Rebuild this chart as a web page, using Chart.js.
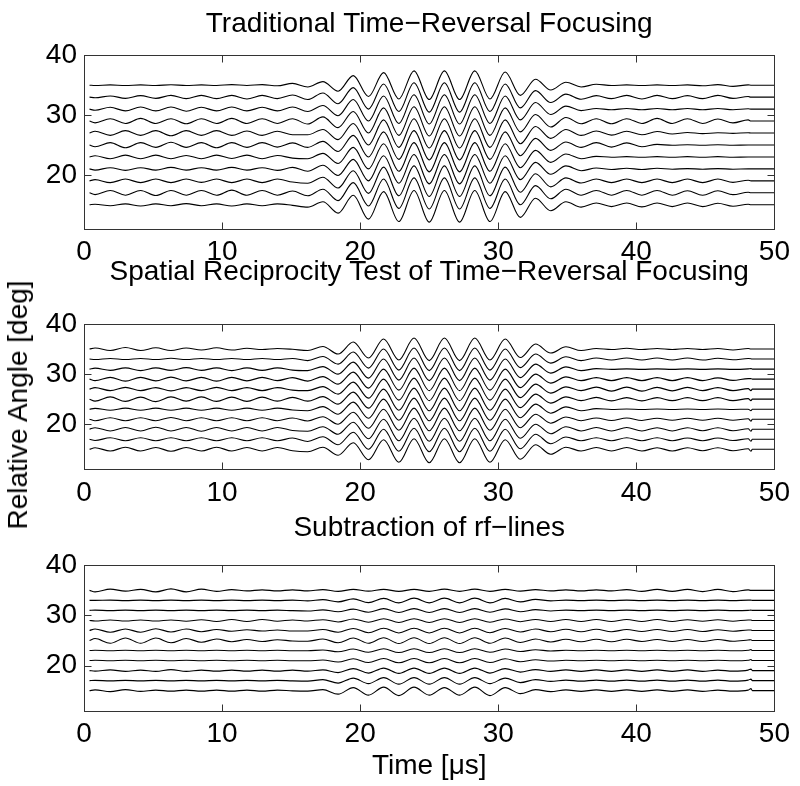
<!DOCTYPE html>
<html>
<head>
<meta charset="utf-8">
<script src="https://cdn.jsdelivr.net/npm/chart.js@4.4.1/dist/chart.umd.min.js"></script>
<style>
  html, body { margin: 0; padding: 0; background: #fff; }
  #page { position: relative; width: 800px; height: 786px; overflow: hidden; }
  canvas { position: absolute; left: 0; }
  #ylabel {
    position: absolute; left: 18px; top: 405px;
    transform: translate(-50%, -50%) rotate(-90deg);
    font-family: "Liberation Sans", Arial, sans-serif; font-size: 28px; color: #000;
    white-space: nowrap; line-height: 1;
  }
</style>
</head>
<body>
<div id="page">
  <canvas id="cTrad" width="800" height="262" style="top:0px"></canvas>
  <canvas id="cRecip" width="800" height="270" style="top:250px"></canvas>
  <canvas id="cSub" width="800" height="281" style="top:505px"></canvas>
  <div id="ylabel">Relative Angle [deg]</div>
</div>
<script>
// ═══════════════════════════════════════════════
// Time-reversal focusing – three stacked rf-line plots
// ═══════════════════════════════════════════════

// time samples [µs] (wave extrema, plus start / end of trace)
const timeUs = [
  0.4, 0.8, 1.9, 3.0, 4.1, 5.2, 6.3, 7.4, 8.5, 9.6, 10.7, 11.8, 12.9, 14.0, 15.1,
  16.2, 17.3, 18.4, 19.5, 20.6, 21.7, 22.8, 23.9, 25.0, 26.1, 27.2, 28.3, 29.4, 30.5, 31.6, 32.7, 33.8, 34.9, 36.0,
  37.1, 38.2, 39.3, 40.4, 41.5, 42.6, 43.7, 44.8, 45.9, 47.0, 48.1, 48.3, 48.4, 50
];

// relative angle of each rf-line [deg], top to bottom
const angles = [35, 33, 31, 29, 27, 25, 23, 21, 19, 17, 15];

const xTicks = [0, 10, 20, 30, 40, 50];
const yTicks = [20, 30, 40];

// ── Traditional time-reversal focusing (deviation from the line's angle) ──
const tradLines = [
  [0, -0.05, 0.05, -0.05, 0.05, -0.05, 0.08, -0.05, 0.05, -0.05, 0.1, -0.05, 0.1, -0.1, 0.3,
   -0.3, 0.6, -1.0, 1.6, -1.9, 2.1, -2.3, 2.4, -2.4, 2.4, -2.4, 2.4, -2.3, 2.2, -1.7, 1.0, -0.8, 0.5, -0.3,
   0.15, -0.05, 0.05, -0.05, 0.05, -0.05, 0.05, -0.1, 0.1, -0.2, 0.05, 0, 0, 0],
  [0, -0.1, 0.2, -0.2, 0.25, -0.2, 0.3, -0.25, 0.3, -0.25, 0.3, -0.3, 0.3, -0.25, 0.35,
   -0.4, 0.7, -1.1, 1.6, -2.0, 2.2, -2.4, 2.4, -2.5, 2.4, -2.5, 2.4, -2.4, 2.2, -1.8, 1.1, -0.9, 0.5, -0.35,
   0.25, -0.25, 0.3, -0.3, 0.3, -0.25, 0.25, -0.25, 0.3, -0.2, 0.1, 0, 0, 0],
  [0, -0.2, 0.3, -0.3, 0.35, -0.3, 0.35, -0.35, 0.3, -0.3, 0.35, -0.3, 0.3, -0.3, 0.35,
   -0.4, 0.6, -1.1, 1.6, -2.0, 2.2, -2.4, 2.4, -2.5, 2.4, -2.5, 2.4, -2.4, 2.2, -1.8, 1.1, -0.9, 0.5, -0.25,
   0.1, -0.1, 0.1, -0.1, 0.1, -0.1, 0.1, -0.1, 0.1, -0.1, 0.05, 0, 0, 0],
  [0, -0.3, 0.4, -0.4, 0.45, -0.4, 0.4, -0.45, 0.4, -0.4, 0.45, -0.4, 0.4, -0.4, 0.4,
   -0.5, 0.7, -1.1, 1.6, -2.0, 2.2, -2.4, 2.4, -2.5, 2.4, -2.5, 2.4, -2.4, 2.2, -1.8, 1.1, -1.0, 0.6, -0.45,
   0.4, -0.45, 0.4, -0.4, 0.45, -0.4, 0.4, -0.4, 0.35, -0.3, 0.2, 0, 0, 0],
  [0, 0.3, -0.4, 0.4, -0.4, 0.4, -0.45, 0.4, -0.4, 0.4, -0.4, 0.35, -0.4, 0.3, -0.3,
   -0.3, 0.6, -1.1, 1.6, -2.0, 2.2, -2.4, 2.4, -2.5, 2.4, -2.5, 2.4, -2.4, 2.2, -1.8, 1.1, -0.9, 0.6, -0.4,
   0.35, -0.35, 0.3, -0.3, 0.25, -0.15, 0.1, -0.1, 0.05, -0.05, 0.05, 0, 0, 0],
  [0, -0.3, 0.4, -0.45, 0.4, -0.4, 0.45, -0.4, 0.4, -0.45, 0.4, -0.4, 0.4, -0.35, 0.35,
   -0.4, 0.6, -1.1, 1.6, -2.0, 2.2, -2.4, 2.4, -2.5, 2.4, -2.5, 2.4, -2.4, 2.2, -1.8, 1.1, -0.9, 0.5, -0.4,
   0.4, -0.35, 0.35, -0.3, 0.1, -0.05, 0.05, -0.05, 0.05, -0.05, 0, 0, 0, 0],
  [0, 0.2, -0.3, 0.3, -0.3, 0.3, -0.3, 0.25, -0.3, 0.3, -0.25, 0.3, -0.3, 0.25, -0.2,
   -0.3, 0.6, -1.1, 1.6, -2.0, 2.2, -2.4, 2.4, -2.5, 2.4, -2.5, 2.4, -2.4, 2.2, -1.8, 1.1, -0.9, 0.5, -0.3,
   0.1, -0.05, 0.05, -0.05, 0.05, -0.05, 0.05, -0.05, 0.05, -0.05, 0, 0, 0, 0],
  [0, -0.2, 0.2, -0.25, 0.2, -0.2, 0.25, -0.2, 0.2, -0.2, 0.25, -0.2, 0.2, -0.25, 0.25,
   -0.4, 0.6, -1.1, 1.6, -2.0, 2.2, -2.4, 2.4, -2.5, 2.4, -2.5, 2.4, -2.4, 2.2, -1.8, 1.1, -0.9, 0.5, -0.3,
   0.15, -0.1, 0.1, -0.1, 0.1, -0.05, 0.05, -0.05, 0.05, -0.05, 0, 0, 0, 0],
  [0, 0.2, -0.3, 0.3, -0.3, 0.3, -0.3, 0.3, -0.25, 0.3, -0.3, 0.3, -0.3, 0.3, -0.2,
   -0.4, 0.6, -1.2, 1.7, -2.1, 2.3, -2.5, 2.5, -2.6, 2.5, -2.6, 2.5, -2.5, 2.3, -1.9, 1.2, -1.0, 0.5, -0.35,
   0.3, -0.3, 0.3, -0.3, 0.3, -0.3, 0.3, -0.3, 0.3, -0.25, 0.1, 0, 0, 0],
  [0, -0.3, 0.4, -0.4, 0.4, -0.45, 0.4, -0.4, 0.4, -0.4, 0.45, -0.4, 0.4, -0.4, 0.3,
   -0.5, 0.6, -1.3, 1.7, -2.2, 2.3, -2.6, 2.5, -2.7, 2.5, -2.7, 2.5, -2.6, 2.3, -2.0, 1.2, -1.0, 0.6, -0.4,
   0.4, -0.4, 0.4, -0.4, 0.4, -0.4, 0.35, -0.4, 0.35, -0.3, 0.1, 0, 0, 0],
  [0, 0.1, -0.15, 0.15, -0.2, 0.15, -0.15, 0.2, -0.15, 0.15, -0.2, 0.15, -0.15, 0.15, -0.1,
   -0.4, 0.5, -1.4, 1.6, -2.4, 2.2, -2.8, 2.4, -2.9, 2.4, -2.9, 2.4, -2.8, 2.2, -2.1, 1.1, -1.0, 0.5, -0.4,
   0.3, -0.3, 0.3, -0.35, 0.3, -0.3, 0.3, -0.3, 0.25, -0.25, 0.1, 0, 0, 0]
];

// ── Spatial reciprocity test ──
const recipLines = [
  [0, 0.2, -0.3, 0.3, -0.3, 0.25, -0.3, 0.2, -0.2, 0.25, -0.2, 0.15, -0.1, 0.1, -0.05,
   -0.3, 0.5, -1.0, 1.4, -1.8, 2.0, -2.2, 2.2, -2.3, 2.2, -2.3, 2.2, -2.2, 2.0, -1.7, 1.0, -0.8, 0.45, -0.3,
   0.1, -0.1, 0.15, -0.1, 0.1, -0.1, 0.1, -0.1, 0.1, -0.2, 0.1, 0, 0, 0],
  [0, -0.1, 0.1, -0.1, 0.1, -0.1, 0.15, -0.1, 0.1, -0.1, 0.1, -0.1, 0.1, -0.1, 0.1,
   -0.3, 0.5, -1.0, 1.4, -1.8, 2.0, -2.2, 2.2, -2.3, 2.2, -2.3, 2.2, -2.2, 2.0, -1.7, 1.0, -0.8, 0.45, -0.3,
   0.2, -0.2, 0.2, -0.2, 0.2, -0.2, 0.2, -0.2, 0.15, -0.15, 0.1, 0.05, 0, 0],
  [0, 0.2, -0.25, 0.25, -0.3, 0.25, -0.25, 0.3, -0.25, 0.25, -0.3, 0.25, -0.25, 0.25, -0.2,
   -0.3, 0.5, -1.0, 1.4, -1.8, 2.0, -2.2, 2.2, -2.3, 2.2, -2.3, 2.2, -2.2, 2.0, -1.7, 1.0, -0.8, 0.45, -0.3,
   0.1, -0.05, 0.05, -0.05, 0.05, -0.05, 0.05, -0.05, 0.05, -0.05, 0.05, 0.1, 0, 0],
  [0, -0.3, 0.35, -0.4, 0.35, -0.35, 0.4, -0.35, 0.35, -0.4, 0.35, -0.35, 0.35, -0.3, 0.3,
   -0.4, 0.5, -1.0, 1.4, -1.8, 2.0, -2.2, 2.2, -2.3, 2.2, -2.3, 2.2, -2.2, 2.0, -1.7, 1.0, -0.8, 0.45, -0.3,
   0.3, -0.3, 0.3, -0.3, 0.3, -0.3, 0.3, -0.3, 0.25, -0.25, 0.1, 0.1, 0, 0],
  [0, 0.3, -0.3, 0.35, -0.3, 0.3, -0.35, 0.3, -0.3, 0.35, -0.3, 0.3, -0.3, 0.3, -0.2,
   -0.3, 0.5, -1.0, 1.4, -1.8, 2.0, -2.2, 2.2, -2.3, 2.2, -2.3, 2.2, -2.2, 2.0, -1.7, 1.0, -0.8, 0.45, -0.3,
   0.4, -0.4, 0.4, -0.4, 0.35, -0.35, 0.35, -0.3, 0.3, -0.3, 0.1, -0.3, 0, 0],
  [0, -0.4, 0.45, -0.45, 0.4, -0.5, 0.45, -0.4, 0.45, -0.45, 0.4, -0.45, 0.4, -0.4, 0.35,
   -0.4, 0.5, -1.0, 1.4, -1.8, 2.0, -2.2, 2.2, -2.3, 2.2, -2.3, 2.2, -2.2, 2.0, -1.7, 1.0, -0.8, 0.45, -0.3,
   0.35, -0.35, 0.3, -0.35, 0.3, -0.3, 0.3, -0.3, 0.3, -0.3, 0.1, -0.3, 0, 0],
  [0, 0.15, -0.2, 0.2, -0.2, 0.2, -0.2, 0.2, -0.2, 0.2, -0.2, 0.2, -0.2, 0.2, -0.15,
   -0.3, 0.5, -1.0, 1.4, -1.8, 2.0, -2.2, 2.2, -2.3, 2.2, -2.3, 2.2, -2.2, 2.0, -1.7, 1.0, -0.8, 0.45, -0.3,
   0.1, -0.05, 0.05, -0.05, 0.05, -0.05, 0.05, -0.05, 0.05, -0.05, 0, -0.3, 0, 0],
  [0, -0.3, 0.3, -0.3, 0.3, -0.3, 0.35, -0.3, 0.3, -0.3, 0.3, -0.3, 0.3, -0.3, 0.25,
   -0.35, 0.5, -1.0, 1.4, -1.8, 2.0, -2.2, 2.2, -2.3, 2.2, -2.3, 2.2, -2.2, 2.0, -1.7, 1.0, -0.8, 0.45, -0.3,
   0.25, -0.25, 0.25, -0.25, 0.2, -0.2, 0.2, -0.2, 0.2, -0.2, 0.1, -0.4, 0, 0],
  [0, 0.3, -0.35, 0.35, -0.35, 0.4, -0.35, 0.35, -0.4, 0.35, -0.35, 0.35, -0.35, 0.35, -0.25,
   -0.4, 0.5, -1.0, 1.4, -1.9, 2.0, -2.3, 2.2, -2.4, 2.2, -2.4, 2.2, -2.3, 2.0, -1.8, 1.0, -0.9, 0.5, -0.35,
   0.35, -0.35, 0.35, -0.35, 0.3, -0.35, 0.3, -0.3, 0.3, -0.3, 0.1, -0.4, 0, 0],
  [0, -0.25, 0.3, -0.3, 0.3, -0.3, 0.3, -0.3, 0.3, -0.3, 0.3, -0.3, 0.3, -0.3, 0.25,
   -0.45, 0.5, -1.1, 1.4, -2.0, 2.0, -2.4, 2.2, -2.5, 2.2, -2.5, 2.2, -2.4, 2.0, -1.9, 1.0, -0.9, 0.45, -0.3,
   0.3, -0.3, 0.3, -0.3, 0.3, -0.3, 0.25, -0.3, 0.25, -0.25, 0.1, -0.4, 0, 0],
  [0, 0.3, -0.35, 0.4, -0.35, 0.35, -0.4, 0.35, -0.35, 0.4, -0.35, 0.35, -0.35, 0.35, -0.3,
   -0.5, 0.4, -1.2, 1.3, -2.1, 1.9, -2.6, 2.1, -2.7, 2.1, -2.7, 2.1, -2.6, 1.9, -2.0, 0.9, -1.0, 0.4, -0.35,
   0.35, -0.35, 0.35, -0.35, 0.3, -0.35, 0.3, -0.3, 0.3, -0.3, 0.1, -0.4, 0, 0]
];

// ── Subtraction of rf-lines ──
const subLines = [
  [0, -0.3, 0.25, -0.15, 0.2, -0.3, 0.3, -0.3, 0.25, -0.2, 0.15, -0.1, 0.1, -0.1, 0.1,
   -0.1, 0.15, -0.2, 0.2, -0.15, 0.2, -0.2, 0.2, -0.2, 0.25, -0.2, 0.25, -0.2, 0.2, -0.15, 0.15, -0.1, 0.1, -0.1,
   0.1, -0.1, 0.15, -0.2, 0.2, -0.2, 0.2, -0.25, 0.2, -0.25, 0.1, 0, 0, 0],
  [0, 0, 0.05, -0.05, 0.05, -0.05, 0.05, -0.05, 0.05, -0.05, 0.05, -0.05, 0.05, -0.05, 0.05,
   -0.1, 0.15, -0.3, 0.3, -0.45, 0.4, -0.5, 0.45, -0.5, 0.45, -0.5, 0.45, -0.5, 0.4, -0.3, 0.2, -0.1, 0.05, -0.05,
   0.05, -0.05, 0.05, -0.05, 0.05, -0.05, 0.05, -0.05, 0.05, -0.05, 0.05, 0.05, 0, 0],
  [0, 0.05, -0.05, 0.05, -0.05, 0.05, -0.05, 0.05, -0.05, 0.05, -0.05, 0.05, -0.05, 0.05, -0.05,
   -0.1, 0.1, -0.25, 0.25, -0.35, 0.35, -0.4, 0.35, -0.4, 0.35, -0.4, 0.35, -0.35, 0.3, -0.25, 0.15, -0.1, 0.05, -0.05,
   0.05, -0.05, 0.05, -0.05, 0.05, -0.05, 0.05, -0.05, 0.05, -0.05, 0, 0.05, 0, 0],
  [0, -0.1, 0.1, -0.1, 0.1, -0.1, 0.1, -0.15, 0.15, -0.2, 0.2, -0.2, 0.2, -0.15, 0.1,
   -0.1, 0.15, -0.3, 0.3, -0.35, 0.35, -0.4, 0.35, -0.4, 0.35, -0.4, 0.35, -0.35, 0.3, -0.25, 0.2, -0.2, 0.2, -0.2,
   0.2, -0.2, 0.2, -0.2, 0.2, -0.2, 0.15, -0.15, 0.15, -0.15, 0.1, 0.1, 0, 0],
  [0, 0.3, -0.35, 0.3, -0.35, 0.35, -0.3, 0.3, -0.25, 0.2, -0.15, 0.15, -0.1, 0.1, -0.1,
   -0.1, 0.2, -0.35, 0.4, -0.45, 0.45, -0.5, 0.45, -0.5, 0.45, -0.5, 0.45, -0.45, 0.4, -0.3, 0.3, -0.25, 0.25, -0.25,
   0.25, -0.25, 0.2, -0.2, 0.2, -0.2, 0.2, -0.2, 0.15, -0.15, 0.1, 0.1, 0, 0],
  [0, 0.4, -0.55, 0.5, -0.55, 0.5, -0.45, 0.4, -0.35, 0.3, -0.25, 0.2, -0.2, 0.15, -0.1,
   -0.15, 0.3, -0.45, 0.5, -0.55, 0.55, -0.6, 0.55, -0.6, 0.55, -0.6, 0.55, -0.55, 0.5, -0.4, 0.3, -0.3, 0.25, -0.25,
   0.25, -0.25, 0.25, -0.2, 0.2, -0.2, 0.2, -0.2, 0.2, -0.15, 0.1, 0.15, 0, 0],
  [0, 0.05, -0.05, 0.05, -0.05, 0.05, -0.05, 0.05, -0.05, 0.05, -0.05, 0.05, -0.05, 0.05, -0.05,
   -0.05, 0.1, -0.25, 0.3, -0.35, 0.35, -0.4, 0.35, -0.4, 0.35, -0.4, 0.35, -0.35, 0.3, -0.2, 0.15, -0.1, 0.05, -0.05,
   0.05, -0.05, 0.05, -0.05, 0.05, -0.05, 0.05, -0.05, 0.05, -0.05, 0.05, 0.2, 0, 0],
  [0, 0.05, -0.05, 0.05, -0.05, 0.05, -0.05, 0.05, -0.05, 0.05, -0.05, 0.05, -0.05, 0.05, -0.05,
   -0.05, 0.1, -0.3, 0.35, -0.4, 0.4, -0.45, 0.4, -0.45, 0.4, -0.45, 0.4, -0.4, 0.35, -0.25, 0.15, -0.1, 0.05, -0.05,
   0.05, -0.05, 0.05, -0.05, 0.05, -0.05, 0.05, -0.05, 0.05, -0.05, 0.05, 0.2, 0, 0],
  [0, -0.1, 0.15, -0.15, 0.1, -0.15, 0.2, -0.15, 0.1, -0.1, 0.1, -0.1, 0.1, -0.1, 0.1,
   -0.1, 0.15, -0.4, 0.4, -0.5, 0.5, -0.55, 0.5, -0.55, 0.5, -0.55, 0.5, -0.5, 0.4, -0.3, 0.2, -0.15, 0.15, -0.15,
   0.15, -0.15, 0.15, -0.15, 0.15, -0.15, 0.15, -0.15, 0.1, -0.1, 0.1, 0.3, 0, 0],
  [0, 0.05, -0.05, 0.05, -0.05, 0.05, -0.05, 0.05, -0.05, 0.05, -0.05, 0.05, -0.05, 0.05, -0.05,
   -0.1, 0.2, -0.5, 0.5, -0.6, 0.6, -0.7, 0.6, -0.7, 0.6, -0.7, 0.6, -0.6, 0.5, -0.4, 0.2, -0.15, 0.1, -0.1,
   0.1, -0.1, 0.1, -0.1, 0.1, -0.1, 0.1, -0.1, 0.1, -0.1, 0.1, 0.3, 0, 0],
  [0, 0.15, -0.2, 0.2, -0.15, 0.1, -0.1, 0.1, -0.1, 0.1, -0.1, 0.1, -0.1, 0.1, -0.05,
   -0.1, 0.2, -0.7, 0.6, -0.9, 0.7, -1.0, 0.7, -0.9, 0.6, -0.9, 0.7, -1.0, 0.6, -0.6, 0.2, -0.2, 0.15, -0.15,
   0.15, -0.15, 0.15, -0.15, 0.15, -0.15, 0.15, -0.15, 0.1, -0.1, 0.1, 0.4, 0, 0]
];

const FONT = '"Liberation Sans", Arial, Helvetica, sans-serif';

// ── frame + inward tick marks (matlab style box) ──
const boxPlugin = {
  id: 'box',
  afterDraw(chart) {
    const { ctx, chartArea: a, scales } = chart;
    const L = Math.round(a.left) + 0.5, R = Math.round(a.right) + 0.5;
    const T = Math.round(a.top) + 0.5, B = Math.round(a.bottom) + 0.5;
    ctx.save();
    ctx.strokeStyle = '#333';
    ctx.lineWidth = 1;
    ctx.strokeRect(L, T, R - L, B - T);
    ctx.beginPath();
    xTicks.slice(1, -1).forEach(v => {
      const px = Math.round(scales.x.getPixelForValue(v)) + 0.5;
      ctx.moveTo(px, B); ctx.lineTo(px, B - 7);
      ctx.moveTo(px, T); ctx.lineTo(px, T + 7);
    });
    yTicks.slice(0, -1).forEach(v => {
      const py = Math.round(scales.y.getPixelForValue(v)) + 0.5;
      ctx.moveTo(L, py); ctx.lineTo(L + 7, py);
      ctx.moveTo(R, py); ctx.lineTo(R - 7, py);
    });
    ctx.stroke();
    ctx.restore();
  }
};

function makePlot(canvasId, lines, o) {
  const datasets = lines.map((dev, k) => {
    if (dev.length !== timeUs.length) console.warn(canvasId, 'line', k, 'length', dev.length);
    return {
      data: timeUs.map((t, i) => ({ x: t, y: angles[k] + dev[i] })),
      borderColor: '#000',
      borderWidth: 1.1,
      pointRadius: 0,
      fill: false,
      cubicInterpolationMode: 'monotone'
    };
  });

  return new Chart(document.getElementById(canvasId), {
    type: 'line',
    data: { datasets },
    options: {
      responsive: false,
      animation: false,
      events: [],
      layout: { padding: { left: 0, right: 22, top: 0, bottom: 0 } },
      plugins: {
        legend: { display: false },
        tooltip: { enabled: false },
        title: {
          display: true,
          fullSize: false,          // centre over the plot area, not the canvas
          text: o.title,
          color: '#000',
          font: { family: FONT, size: 28, weight: 'normal', lineHeight: 1 },
          padding: { top: o.titleTop, bottom: o.titleBottom }
        }
      },
      scales: {
        x: {
          type: 'linear', min: 0, max: 50,
          afterBuildTicks: s => { s.ticks = xTicks.map(v => ({ value: v })); },
          afterFit: s => { s.height = o.xHeight; },
          grid: { display: false, drawTicks: false },
          border: { display: false },
          ticks: { color: '#000', padding: 10, maxRotation: 0, autoSkip: false,
                   font: { family: FONT, size: 28, lineHeight: 1 } },
          title: o.xTitle ? {
            display: true, text: o.xTitle, color: '#000',
            font: { family: FONT, size: 28, lineHeight: 1 }, padding: { top: 0, bottom: 6 }
          } : { display: false }
        },
        y: {
          type: 'linear', min: 11, max: 40,
          afterBuildTicks: s => { s.ticks = yTicks.map(v => ({ value: v })); },
          afterFit: s => { s.width = 84; },
          grid: { display: false, drawTicks: false },
          border: { display: false },
          ticks: { color: '#000', padding: 7, font: { family: FONT, size: 28, lineHeight: 1 } }
        }
      }
    },
    plugins: [boxPlugin]
  });
}

makePlot('cTrad', tradLines, {
  title: 'Traditional Time\u2212Reversal Focusing',
  titleTop: 10, titleBottom: 17.3, xHeight: 33.3
});
makePlot('cRecip', recipLines, {
  title: 'Spatial Reciprocity Test of Time\u2212Reversal Focusing',
  titleTop: 8, titleBottom: 38, xHeight: 50.7
});
makePlot('cSub', subLines, {
  title: 'Subtraction of rf\u2212lines',
  titleTop: 9, titleBottom: 23.3, xHeight: 75.3,
  xTitle: 'Time [\u03bcs]'
});
</script>
</body>
</html>
